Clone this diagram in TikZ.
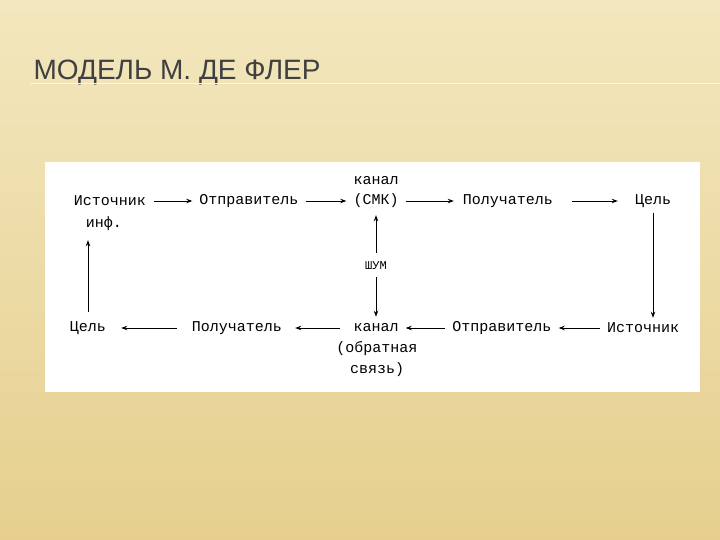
\documentclass[tikz,border=0pt]{standalone}
\usepackage{fontspec}
\setmainfont{Liberation Mono}
\newfontfamily\titlefont{Liberation Sans}
\usetikzlibrary{arrows.meta}
\definecolor{bgA}{HTML}{F3E7BE}
\definecolor{bgB}{HTML}{E6CF8E}
\begin{document}
\begin{tikzpicture}[x=1pt,y=-1pt,
  lbl/.style={font=\fontsize{15}{16}\selectfont, inner sep=1pt},
  conn/.style={-{Stealth[length=6pt,width=4.5pt]}, line width=0.9pt}]
\useasboundingbox (0,0) rectangle (720,540);
\shade[top color=bgA,bottom color=bgB] (0,0) rectangle (720,540);
\node[anchor=west, font=\titlefont\fontsize{28}{30}\selectfont, text=black!75] (title) at (30,73) {МОДЕЛЬ М. ДЕ ФЛЕР};
\draw[white!80!bgB, line width=1pt] (30,84) -- (720,84);
\fill[white] (45,162) rectangle (700,392);
% top row
\node[lbl] (s1) at (110,201) {Источник};
\node[lbl] (inf) at (104,224) {инф.};
\node[lbl] (o1) at (249,201) {Отправитель};
\node[lbl] (k1a) at (376,181) {канал};
\node[lbl] (k1) at (376,201) {(СМК)};
\node[lbl] (p1) at (508,201) {Получатель};
\node[lbl] (c1) at (653,201) {Цель};
% noise
\node[lbl, font=\fontsize{12}{13}\selectfont] (n) at (376,266) {ШУМ};
% bottom row
\node[lbl] (c2) at (88,328) {Цель};
\node[lbl] (p2) at (237,328) {Получатель};
\node[lbl] (k2) at (376,328) {канал};
\node[lbl] (k2b) at (377,349) {(обратная};
\node[lbl] (k2c) at (377,370) {связь)};
\node[lbl] (o2) at (502,328) {Отправитель};
\node[lbl] (s2) at (643,328) {Источник};
% arrows
\draw[conn, shorten <=7pt, shorten >=6pt] (s1.east) -- (o1.west);
\draw[conn, shorten <=6pt, shorten >=6pt] (o1.east) -- (k1.west);
\draw[conn, shorten <=6pt, shorten >=8pt] (k1.east) -- (p1.west);
\draw[conn, shorten <=18pt, shorten >=16pt] (p1.east) -- (c1.west);
\draw[conn, shorten <=4pt, shorten >=4pt] (c1.south) -- (c1 |- s2.north);
\draw[conn, shorten <=6pt, shorten >=6pt] (s2.west) -- (o2.east);
\draw[conn, shorten <=6pt, shorten >=6pt] (o2.west) -- (k2.east);
\draw[conn, shorten <=12pt, shorten >=12pt] (k2.west) -- (p2.east);
\draw[conn, shorten <=14pt, shorten >=14pt] (p2.west) -- (c2.east);
\draw[conn, shorten <=8pt, shorten >=8pt] (c2.north) -- (c2 |- inf.south);
\draw[conn, shorten <=8pt, shorten >=6pt] (n.north) -- (k1.south);
\draw[conn, shorten <=6pt, shorten >=6pt] (n.south) -- (k2.north);
\end{tikzpicture}
\end{document}
